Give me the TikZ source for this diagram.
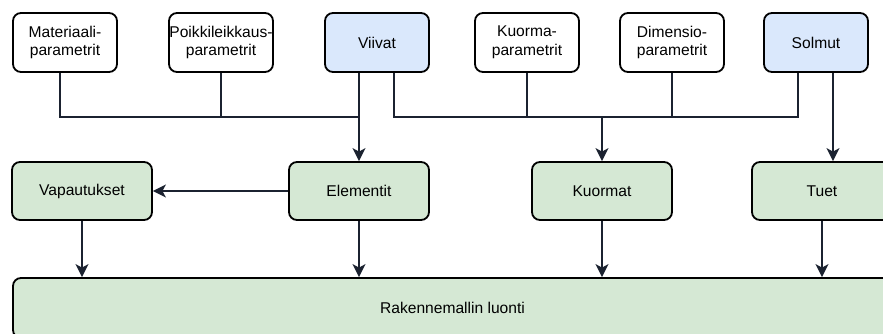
\documentclass[tikz,border=0pt]{standalone}
\usepackage{fontspec}
\setmainfont{Liberation Sans}
\usetikzlibrary{arrows.meta,calc}
\definecolor{linkcol}{HTML}{1B2230}
\definecolor{inputfill}{HTML}{DAE8FC}
\definecolor{stagefill}{HTML}{D5E8D4}
\tikzset{
  box/.style={draw=black, line width=1.8pt, rounded corners=8pt, fill=white,
    align=center, inner sep=0pt, font=\fontsize{15.6}{18.5}\selectfont},
  param/.style={box, minimum width=104pt, minimum height=59pt},
  source/.style={param, fill=inputfill},
  stage/.style={box, fill=stagefill, minimum width=140pt, minimum height=58pt},
  link/.style={draw=linkcol, line width=1.8pt},
  flow/.style={link, -{Stealth[length=13pt, width=13pt, inset=3.5pt]}},
}
\begin{document}
\begin{tikzpicture}[x=1pt, y=-1pt]
  \useasboundingbox (0,0) rectangle (883,334);
  \clip (0,0) rectangle (883,334);

  % input parameters and geometry
  \node[param]  (mat)  at (65,42.5)  {Materiaali-\\parametrit};
  \node[param]  (poik) at (221,42.5) {Poikkileikkaus-\\parametrit};
  \node[source] (vii)  at (377,42.5) {Viivat};
  \node[param]  (kuo)  at (527,42.5) {Kuorma-\\parametrit};
  \node[param]  (dim)  at (672,42.5) {Dimensio-\\parametrit};
  \node[source] (sol)  at (816,42.5) {Solmut};

  % derived model parts
  \node[stage] (vap) at (82,191)  {Vapautukset};
  \node[stage] (ele) at (359,191) {Elementit};
  \node[stage] (kmt) at (602,191) {Kuormat};
  \node[stage] (tue) at (822,191) {Tuet};

  % final model assembly
  \node[box, fill=stagefill, minimum width=879pt, minimum height=60pt] (rak) at (452.5,308) {Rakennemallin luonti};

  % ports on the bottom edges of the two source boxes
  \coordinate (viiL) at ($(vii.south)+(-18,0)$);
  \coordinate (viiR) at ($(vii.south)+(17,0)$);
  \coordinate (solL) at ($(sol.south)+(-18,0)$);
  \coordinate (solR) at ($(sol.south)+(17,0)$);
  \coordinate (matP) at ($(mat.south)+(-5,0)$);

  % junctions of the collector lines
  \coordinate (jele) at (359,117);
  \coordinate (jkmt) at (602,117);

  % inputs of Elementit
  \draw[link] (matP) |- (jele);
  \draw[link] (poik.south) -- (poik.south |- jele);
  \draw[flow] (viiL) -- (ele.north);

  % inputs of Kuormat
  \draw[link] (viiR) |- (jkmt) -| (solL);
  \draw[link] (kuo.south) -- (kuo.south |- jkmt);
  \draw[link] (dim.south) -- (dim.south |- jkmt);
  \draw[flow] (jkmt) -- (kmt.north);

  % input of Tuet
  \draw[flow] (solR) -- (solR |- tue.north);

  % Elementit to Vapautukset
  \draw[flow] (ele.west) -- (vap.east);

  % everything into the model
  \draw[flow] (vap.south) -- (vap.south |- rak.north);
  \draw[flow] (ele.south) -- (ele.south |- rak.north);
  \draw[flow] (kmt.south) -- (kmt.south |- rak.north);
  \draw[flow] (tue.south) -- (tue.south |- rak.north);
\end{tikzpicture}
\end{document}
